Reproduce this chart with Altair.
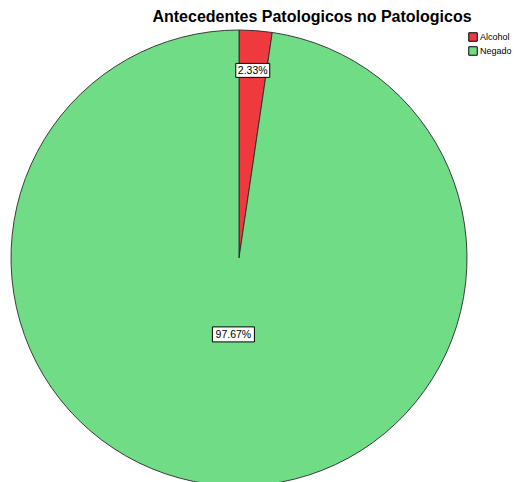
import altair as alt
import pandas as pd

# ---- data ----
categories = ["Alcohol", "Negado"]
percents = [2.33, 97.67]
labels = ["2.33%", "97.67%"]
colors = ["#F0383F", "#70DD86"]
order = [0, 1]

df = pd.DataFrame({"cat": categories, "pct": percents, "label": labels, "order": order})

# ---- layout constants ----
W, H = 504, 454
CX, CY, R = 231, 230, 228
BOX_W = {"Alcohol": 34, "Negado": 42}
BOX_H = {"Alcohol": 14, "Negado": 15}
FONT = "Liberation Sans"

base = alt.Chart(df)

pie = base.mark_arc(outerRadius=R, stroke="#2a2a2a", strokeWidth=0.9).encode(
    theta=alt.Theta("pct:Q", stack=True),
    color=alt.Color(
        "cat:N",
        scale=alt.Scale(domain=categories, range=colors),
        legend=alt.Legend(
            title=None, orient="none", legendX=460, legendY=4,
            symbolType="square", symbolSize=72, symbolStrokeColor="black",
            symbolStrokeWidth=1, symbolOpacity=1, labelFontSize=9, labelFont=FONT,
            labelColor="black", rowPadding=0, labelOffset=2,
        ),
    ),
    order=alt.Order("order:Q"),
    x=alt.value(CX),
    y=alt.value(CY),
)

lab_base = base.transform_window(
    cum="sum(pct)", sort=[alt.SortField("order")], frame=[None, 0]
).transform_joinaggregate(total="sum(pct)").transform_calculate(
    mid="(datum.cum - datum.pct/2) / datum.total * 2 * PI",
    rf="datum.pct < 10 ? 0.825 : 0.336",
    lx="datum.rf * sin(datum.mid)",
    ly="datum.rf * cos(datum.mid)",
)

xs = alt.Scale(domain=[-1, 1], range=[CX - R, CX + R])
ys = alt.Scale(domain=[-1, 1], range=[CY + R, CY - R])

layers = [pie]
for c in categories:
    bw, bh = BOX_W[c], BOX_H[c]
    box = lab_base.transform_filter(alt.datum.cat == c).mark_rect(
        fill="white", stroke="black", strokeWidth=1,
        xOffset=-bw / 2, x2Offset=bw / 2, yOffset=-bh / 2, y2Offset=bh / 2,
    ).encode(
        x=alt.X("lx:Q", scale=xs, axis=None),
        x2="lx:Q",
        y=alt.Y("ly:Q", scale=ys, axis=None),
        y2="ly:Q",
    )
    layers.append(box)

text = lab_base.mark_text(
    font=FONT, fontSize=10.5, color="black", baseline="middle", align="center", dy=0.5
).encode(
    x=alt.X("lx:Q", scale=xs, axis=None),
    y=alt.Y("ly:Q", scale=ys, axis=None),
    text="label:N",
)
layers.append(text)

chart = alt.layer(*layers).properties(
    width=W,
    height=H,
    autosize="none",
    padding={"left": 0, "top": 20, "right": 0, "bottom": 0},
    title=alt.Title(
        "Antecedentes Patologicos no Patologicos",
        font=FONT, fontSize=16, fontWeight="bold", color="black",
        anchor="middle", dx=52, offset=3,
    ),
).configure_view(stroke=None)

chart.save("out.html", embed_options={"renderer": "svg", "actions": False})
